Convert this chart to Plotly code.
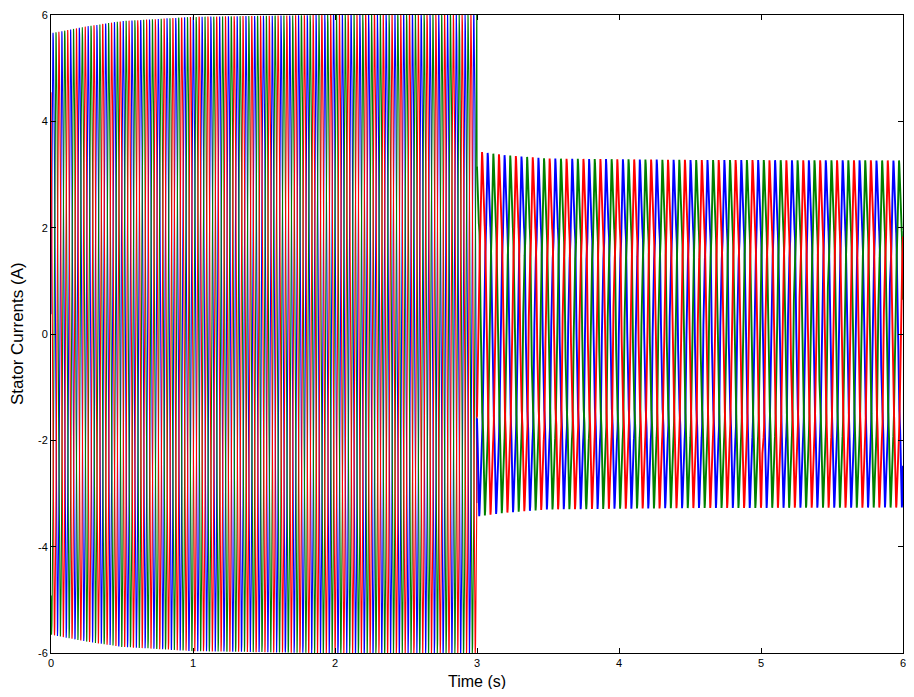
import numpy as np
import plotly.graph_objects as go

# Envelope of the phase currents (time s, peak A)
env_t = [0.0, 0.25, 0.5, 1.0, 2.0, 2.999, 3.0, 3.2, 3.5, 4.5, 6.0]
env_a = [5.55, 5.68, 5.78, 5.86, 5.9, 5.9, 3.05, 2.98, 2.92, 2.9, 2.9]
# ripple (harmonic) amplitude
rip_t = [0.0, 2.999, 3.0, 6.0]
rip_a = [0.12, 0.12, 0.4, 0.38]
# apparent oscillation frequency before/after the step at t=3 s (Hz)
seg_t = [0.0, 3.0, 6.0]
seg_f = [16.2, 8.4]
seg_w = [1.1, 1.9]

x_ticks = [0, 1, 2, 3, 4, 5, 6]
x_tick_text = ["0", "1", "2", "3", "4", "5", "6"]
y_ticks = [-6, -4, -2, 0, 2, 4, 6]
y_tick_text = ["-6", "-4", "-2", "0", "2", "4", "6"]
phase_names = ["ia", "ib", "ic"]
phase_colors = ["rgb(0,0,255)", "rgb(0,128,0)", "rgb(255,0,0)"]
phase_shift_deg = [0, 120, 240]

dt = 0.0005
t = np.arange(0, 6.0 + 1e-9, dt)
amp = np.interp(t, env_t, env_a)
rip = np.interp(t, rip_t, rip_a)
freq = np.where(t < seg_t[1], seg_f[0], seg_f[1])
theta = 2 * np.pi * np.cumsum(freq) * dt

fig = go.Figure()
for k in range(2):
    lo = np.searchsorted(t, seg_t[k])
    hi = np.searchsorted(t, seg_t[k + 1], side="right")
    if k == 0:
        hi += 1  # join segments
    for name, col, sh in zip(phase_names, phase_colors, phase_shift_deg):
        ph = theta - np.deg2rad(sh)
        y = amp * np.sin(ph) + rip * np.sin(5 * ph + 0.6)
        fig.add_trace(go.Scatter(x=t[lo:hi], y=y[lo:hi], mode="lines", name=name,
                                 line=dict(color=col, width=seg_w[k]), showlegend=False))

tick_font = dict(family="Arial", size=11, color="black")
axis_common = dict(showgrid=False, zeroline=False, showline=True, linecolor="black",
                   linewidth=1, mirror="ticks", ticks="inside", ticklen=5, automargin=False,
                   ticklabeloverflow="allow", tickcolor="black", tickfont=tick_font)
fig.update_xaxes(range=[0, 6], tickvals=x_ticks, ticktext=x_tick_text, **axis_common)
fig.update_yaxes(range=[-6, 6], tickvals=y_ticks, ticktext=y_tick_text, **axis_common)
fig.add_annotation(text="Time (s)", xref="paper", yref="paper", x=0.5, y=0,
                   xanchor="center", yanchor="middle", yshift=-28, showarrow=False,
                   font=dict(family="Arial", size=16, color="black"))
fig.add_annotation(text="Stator Currents (A)", xref="paper", yref="paper", x=0, y=0.5,
                   xanchor="center", yanchor="middle", xshift=-34, textangle=-90,
                   showarrow=False, font=dict(family="Arial", size=17, color="black"))
fig.update_layout(width=898, height=681, plot_bgcolor="white", paper_bgcolor="white",
                  margin=dict(l=43, r=3, t=7, b=36))
fig.write_html("out.html")
